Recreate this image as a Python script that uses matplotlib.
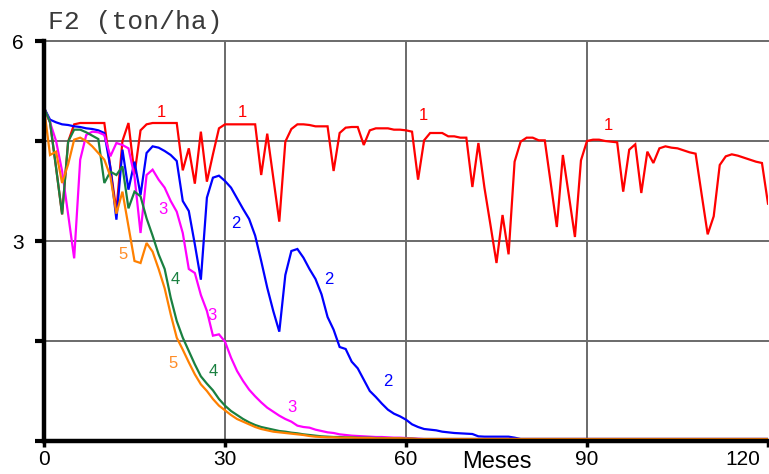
import matplotlib
matplotlib.use('Agg')
import matplotlib.pyplot as plt
import matplotlib.transforms as mtransforms

months = list(range(121))

s1 = [5.0, 4.78, 4.1, 3.4, 4.49, 4.75, 4.77, 4.77, 4.77, 4.77,
      4.77, 4.1, 3.45, 4.5, 4.77, 4.0, 4.66, 4.75, 4.77, 4.77,
      4.77, 4.77, 4.77, 4.06, 4.39, 3.86, 4.64, 3.89, 4.3, 4.69,
      4.75, 4.75, 4.75, 4.75, 4.75, 4.75, 3.99, 4.61, 3.95, 3.29,
      4.49, 4.68, 4.75, 4.75, 4.74, 4.72, 4.72, 4.72, 4.05, 4.62,
      4.70, 4.71, 4.71, 4.44, 4.66, 4.69, 4.69, 4.69, 4.67, 4.67,
      4.66, 4.64, 3.92, 4.51, 4.62, 4.62, 4.62, 4.57, 4.57, 4.55,
      4.55, 3.81, 4.47, 3.80, 3.24, 2.67, 3.39, 2.80, 4.19, 4.49,
      4.55, 4.55, 4.51, 4.51, 3.86, 3.21, 4.29, 3.68, 3.06, 4.21,
      4.50, 4.52, 4.52, 4.50, 4.49, 4.48, 3.74, 4.37, 4.45, 3.72,
      4.34, 4.17, 4.39, 4.42, 4.40, 4.39, 4.36, 4.33, 4.31, 3.70,
      3.10, 3.37, 4.14, 4.27, 4.30, 4.28, 4.25, 4.22, 4.19, 4.17,
      3.56]

s2 = [5.0, 4.82, 4.78, 4.75, 4.74, 4.72, 4.71, 4.69, 4.68, 4.66,
      4.62, 4.1, 3.32, 4.37, 3.77, 4.19, 3.69, 4.32, 4.42, 4.40,
      4.35, 4.29, 4.20, 3.60, 3.45, 2.95, 2.42, 3.65, 3.95, 3.98,
      3.90, 3.80, 3.64, 3.48, 3.33, 3.08, 2.70, 2.30, 1.95, 1.64,
      2.49, 2.85, 2.88, 2.75, 2.58, 2.43, 2.20, 1.86, 1.67, 1.41,
      1.38, 1.19, 1.09, 0.92, 0.75, 0.66, 0.56, 0.47, 0.41, 0.37,
      0.32, 0.25, 0.21, 0.18, 0.17, 0.16, 0.14, 0.13, 0.12, 0.115,
      0.11, 0.105, 0.07, 0.065, 0.065, 0.065, 0.065, 0.065, 0.05, 0.03,
      0.03, 0.03, 0.03, 0.03, 0.03, 0.03, 0.03, 0.03, 0.03, 0.03,
      0.03, 0.03, 0.03, 0.03, 0.03, 0.03, 0.03, 0.03, 0.03, 0.03,
      0.03, 0.03, 0.03, 0.03, 0.03, 0.03, 0.03, 0.03, 0.03, 0.03,
      0.03, 0.03, 0.03, 0.03, 0.03, 0.03, 0.03, 0.03, 0.03, 0.03,
      0.03]

s3 = [5.0, 4.78, 4.5, 4.05, 3.4, 2.74, 4.22, 4.59, 4.64, 4.63,
      4.59, 4.27, 4.47, 4.44, 4.39, 3.97, 3.12, 3.99, 4.07, 3.92,
      3.80, 3.60, 3.44, 3.12, 2.58, 2.52, 2.19, 1.95, 1.58, 1.60,
      1.49, 1.25, 1.05, 0.90, 0.77, 0.67, 0.58, 0.50, 0.44, 0.38,
      0.33, 0.29, 0.23, 0.21, 0.20, 0.17, 0.15, 0.13, 0.12, 0.10,
      0.09, 0.08, 0.075, 0.07, 0.065, 0.06, 0.06, 0.055, 0.05, 0.05,
      0.045, 0.04, 0.035, 0.03, 0.03, 0.03, 0.03, 0.03, 0.03, 0.03,
      0.03, 0.03, 0.03, 0.03, 0.03, 0.03, 0.03, 0.03, 0.03, 0.03,
      0.03, 0.03, 0.03, 0.03, 0.03, 0.03, 0.03, 0.03, 0.03, 0.03,
      0.03, 0.03, 0.03, 0.03, 0.03, 0.03, 0.03, 0.03, 0.03, 0.03,
      0.03, 0.03, 0.03, 0.03, 0.03, 0.03, 0.03, 0.03, 0.03, 0.03,
      0.03, 0.03, 0.03, 0.03, 0.03, 0.03, 0.03, 0.03, 0.03, 0.03,
      0.03]

s4 = [5.0, 4.78, 4.1, 3.4, 4.49, 4.67, 4.67, 4.63, 4.58, 4.53,
      3.87, 4.04, 3.99, 4.12, 3.49, 3.74, 3.67, 3.34, 3.08, 2.80,
      2.58, 2.15, 1.80, 1.55, 1.35, 1.15, 0.97, 0.86, 0.76, 0.63,
      0.53, 0.45, 0.39, 0.33, 0.28, 0.24, 0.21, 0.19, 0.17, 0.15,
      0.14, 0.125, 0.115, 0.10, 0.09, 0.08, 0.07, 0.065, 0.06, 0.06,
      0.055, 0.055, 0.05, 0.05, 0.05, 0.045, 0.045, 0.04, 0.04, 0.04,
      0.035, 0.035, 0.03, 0.03, 0.03, 0.03, 0.03, 0.03, 0.03, 0.03,
      0.03, 0.03, 0.03, 0.03, 0.03, 0.03, 0.03, 0.03, 0.03, 0.03,
      0.03, 0.03, 0.03, 0.03, 0.03, 0.03, 0.03, 0.03, 0.03, 0.03,
      0.03, 0.03, 0.03, 0.03, 0.03, 0.03, 0.03, 0.03, 0.03, 0.03,
      0.03, 0.03, 0.03, 0.03, 0.03, 0.03, 0.03, 0.03, 0.03, 0.03,
      0.03, 0.03, 0.03, 0.03, 0.03, 0.03, 0.03, 0.03, 0.03, 0.03,
      0.03]

s5 = [5.0, 4.29, 4.34, 3.87, 4.15, 4.52, 4.55, 4.50, 4.42, 4.32,
      4.22, 3.97, 3.41, 3.74, 3.22, 2.70, 2.67, 2.97, 2.84, 2.58,
      2.29, 1.90, 1.55, 1.37, 1.18, 1.00, 0.85, 0.75, 0.63, 0.53,
      0.46, 0.39, 0.33, 0.29, 0.25, 0.21, 0.18, 0.16, 0.14, 0.13,
      0.12, 0.11, 0.10, 0.09, 0.075, 0.065, 0.06, 0.055, 0.055, 0.05,
      0.05, 0.05, 0.045, 0.045, 0.045, 0.04, 0.04, 0.04, 0.04, 0.04,
      0.035, 0.035, 0.03, 0.03, 0.03, 0.03, 0.03, 0.03, 0.03, 0.03,
      0.03, 0.03, 0.03, 0.03, 0.03, 0.03, 0.03, 0.03, 0.03, 0.03,
      0.03, 0.03, 0.03, 0.03, 0.03, 0.03, 0.03, 0.03, 0.03, 0.03,
      0.03, 0.03, 0.03, 0.03, 0.03, 0.03, 0.03, 0.03, 0.03, 0.03,
      0.03, 0.03, 0.03, 0.03, 0.03, 0.03, 0.03, 0.03, 0.03, 0.03,
      0.03, 0.03, 0.03, 0.03, 0.03, 0.03, 0.03, 0.03, 0.03, 0.03,
      0.03]

series = [s1, s2, s3, s4, s5]
colors = ['#ff0000', '#0000ff', '#ff00ff', '#1a8040', '#ff8000']
label_colors = ['#ff0000', '#0000ff', '#ff00ff', '#1a8040', '#ff8c26']

# curve labels: (text, month, value)
curve_labels = [
    ('1', 19.5, 4.93), ('1', 32.8, 4.93), ('1', 62.8, 4.89), ('1', 93.6, 4.74),
    ('2', 31.8, 3.27), ('2', 47.2, 2.43), ('2', 57.0, 0.89),
    ('3', 19.7, 3.47), ('3', 27.9, 1.89), ('3', 41.1, 0.50),
    ('4', 21.8, 2.42), ('4', 28.0, 1.04),
    ('5', 13.1, 2.80), ('5', 21.4, 1.17),
]

x_ticks = [0, 30, 60, 90, 120]
x_ticklabels = ['0', '30', '60', '90', '120']
y_ticks = [0, 1.5, 3, 4.5, 6]
y_ticklabels = ['', '', '3', '', '6']

sans = 'Liberation Sans'

fig = plt.figure(figsize=(7.69, 4.74), dpi=100)
ax = fig.add_axes([44 / 769, 33 / 474, 724 / 769, 400 / 474])
ax.set_xlim(0, 120)
ax.set_ylim(0, 6)

grid_color = '#6a6a6a'
for gx in [30, 60, 90]:
    ax.axvline(gx, color=grid_color, lw=1.4, zorder=1)
for gy in [1.5, 3, 4.5, 6]:
    ax.axhline(gy, color=grid_color, lw=1.4, zorder=1, clip_on=False)

for s, c in zip(series, colors):
    ax.plot(months, s, color=c, lw=1.6, zorder=3, solid_joinstyle='miter')

num_to_color = {'1': label_colors[0], '2': label_colors[1], '3': label_colors[2],
                '4': label_colors[3], '5': label_colors[4]}
for t, m, v in curve_labels:
    ax.text(m, v, t, color=num_to_color[t], fontsize=12, family=sans,
            ha='center', va='center', zorder=4)

for side in ['top', 'right']:
    ax.spines[side].set_visible(False)
for side in ['left', 'bottom']:
    ax.spines[side].set_linewidth(3.2)
    ax.spines[side].set_color('black')
    ax.spines[side].set_zorder(5)

ax.set_xticks(x_ticks)
ax.set_xticklabels(x_ticklabels, family=sans, fontsize=15)
ax.set_yticks(y_ticks)
ax.set_yticklabels(y_ticklabels, family=sans, fontsize=15)
ax.tick_params(axis='y', length=6.5, width=3, pad=8, direction='out')
ax.tick_params(axis='x', length=4.5, width=2.5, pad=2, direction='out')

lab = ax.get_xticklabels()[-1]
lab.set_transform(lab.get_transform() + mtransforms.ScaledTranslation(-0.25, 0, fig.dpi_scale_trans))

fig.text(497 / 769, 1 - 462 / 474, 'Meses', ha='center', va='center',
         family=sans, fontsize=17)
fig.text(48 / 769, 1 - 29 / 474, 'F2 (ton/ha)', ha='left', va='baseline',
         family='Liberation Mono', fontsize=19, color='#3a3a3a')

fig.savefig('out.png', dpi=100)
